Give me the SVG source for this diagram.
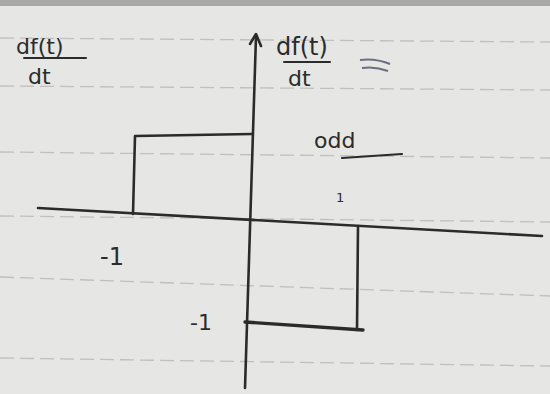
<svg xmlns="http://www.w3.org/2000/svg" width="550" height="394" viewBox="0 0 550 394">
<style>
.ink{stroke:#2b2b2b;stroke-width:2.6;fill:none;stroke-linecap:round;stroke-linejoin:round}
.rule{stroke:#9a9a9a;stroke-width:1.3;stroke-dasharray:14 6;fill:none;opacity:.5}
.t{font-family:"DejaVu Sans",sans-serif;fill:#2b2b2b}
</style>
<rect width="550" height="394" fill="#e6e6e4"/>
<rect width="550" height="6" fill="#a8a8a6"/>
<g id="rules">
<line class="rule" x1="0" y1="38" x2="550" y2="42"/>
<line class="rule" x1="0" y1="86" x2="550" y2="90"/>
<line class="rule" x1="0" y1="152" x2="550" y2="158"/>
<line class="rule" x1="0" y1="216" x2="550" y2="222"/>
<line class="rule" x1="0" y1="277" x2="550" y2="296"/>
<line class="rule" x1="0" y1="358" x2="550" y2="366"/>
</g>
<g id="connectors">
<line class="ink" x1="38" y1="208" x2="542" y2="236"/>
<line class="ink" x1="256" y1="36" x2="245" y2="388"/>
<path class="ink" d="M250 44 L256 34 L261 46"/>
</g>
<g id="pos-pulse">
<path class="ink" d="M133 214 L135 136 L252 134"/>
</g>
<g id="neg-pulse">
<path class="ink" d="M358 226 L357 330"/>
<line class="ink" x1="245" y1="322" x2="363" y2="330" style="stroke-width:3.4"/>
</g>
<g id="label-left">
<text class="t" x="16" y="54" font-size="22">df(t)</text>
<line class="ink" x1="24" y1="58" x2="86" y2="58" style="stroke-width:2"/>
<text class="t" x="28" y="84" font-size="22">dt</text>
</g>
<g id="label-right">
<text class="t" x="276" y="55" font-size="24">df(t)</text>
<line class="ink" x1="284" y1="62" x2="330" y2="62" style="stroke-width:2"/>
<text class="t" x="288" y="86" font-size="22">dt</text>
<path d="M360 60 Q375 58 390 64 M362 68 Q375 66 388 71" stroke="#6a7080" stroke-width="2" fill="none"/>
</g>
<g id="label-odd">
<text class="t" x="314" y="148" font-size="22">odd</text>
<line class="ink" x1="342" y1="158" x2="402" y2="154" style="stroke-width:2.2"/>
</g>
<g id="ticks">
<text class="t" x="336" y="202" font-size="13">1</text>
<text class="t" x="100" y="265" font-size="24">-1</text>
<text class="t" x="190" y="330" font-size="22">-1</text>
</g>
</svg>
